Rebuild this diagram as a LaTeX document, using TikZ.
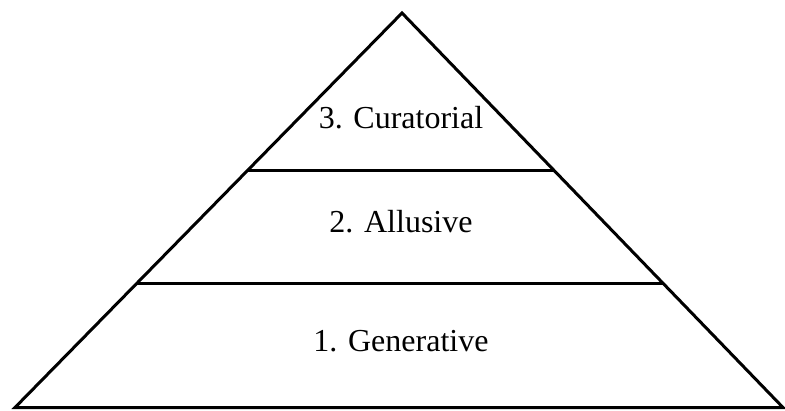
\documentclass[tikz,border=0pt]{standalone}
\usepackage{fontspec}
\setmainfont{Liberation Serif}
\newfontfamily\timesfont{Liberation Serif}
\begin{document}
\begin{tikzpicture}[x=1pt,y=-1pt,
  edge/.style={line width=3pt,line join=miter},
  lvl/.style={font=\timesfont\fontsize{32}{36}\selectfont,anchor=base,inner sep=0pt}]
\useasboundingbox (0,0) rectangle (785,410);
\coordinate (apex) at (402,13);
\coordinate (bl) at (15,407.5);
\coordinate (br) at (783,407.5);
\coordinate (t1) at (247.5,170.7);
\coordinate (t2) at (554.5,170.7);
\coordinate (m1) at (136,283.7);
\coordinate (m2) at (664,283.7);
\draw[edge] (apex) -- (bl) -- (br) -- cycle;
\draw[edge] (t1) -- (t2);
\draw[edge] (m1) -- (m2);
\node[lvl] (c) at (401,128.3) {\timesfont 3. Curatorial};
\node[lvl] (a) at (401,232.3) {\timesfont 2. Allusive};
\node[lvl] (g) at (401,351.7) {\timesfont 1. Generative};
\end{tikzpicture}
\end{document}
